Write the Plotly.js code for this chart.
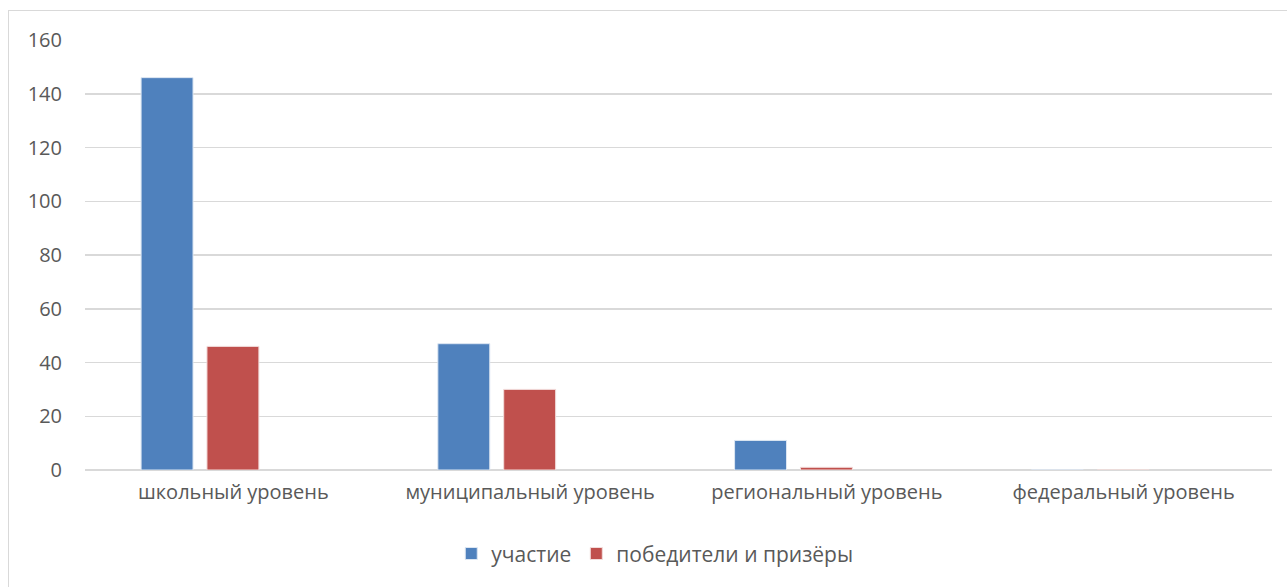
<!DOCTYPE html>
<html>
<head>
<meta charset="utf-8">
<script src="https://cdn.plot.ly/plotly-3.0.1.min.js"></script>
<style>
html,body{margin:0;padding:0;background:#fff;overflow:hidden;}
#wrap{position:relative;width:1287px;height:587px;}
#chart{position:absolute;left:0;top:0;width:1287px;height:587px;}
#frame{position:absolute;left:8px;top:10px;width:1300px;height:600px;border:1px solid #d9d9d9;pointer-events:none;}
</style>
</head>
<body>
<div id="wrap"><div id="chart"></div><div id="frame"></div></div>
<script>
const categories = ["школьный уровень", "муниципальный уровень", "региональный уровень", "федеральный уровень"];
const seriesNames = ["участие", "победители и призёры"];
const participation = [146, 47, 11, 0];
const winners = [46, 30, 1, 0];
const yTicks = [0, 20, 40, 60, 80, 100, 120, 140, 160];

const font = {family: "Open Sans, sans-serif", size: 20, color: "#595959"};
const legendFont = {family: "Open Sans, sans-serif", size: 21, color: "#595959"};

const traces = [
  {type: "bar", name: seriesNames[0], x: categories, y: participation,
   marker: {color: "#4f81bd", line: {color: "#dce6f2", width: 1}},
   width: 0.175, offset: -0.311, hoverinfo: "y"},
  {type: "bar", name: seriesNames[1], x: categories, y: winners,
   marker: {color: "#c0504d", line: {color: "#f2dcdb", width: 1}},
   width: 0.175, offset: -0.089, hoverinfo: "y"}
];

const layout = {
  width: 1287, height: 587,
  margin: {l: 85, r: 15, t: 40, b: 117},
  paper_bgcolor: "rgba(0,0,0,0)", plot_bgcolor: "#fff",
  font: font,
  barmode: "overlay",
  showlegend: true,
  legend: {orientation: "h", x: 0.48, xanchor: "center", y: -0.195, yanchor: "middle",
           font: legendFont, itemwidth: 30, traceorder: "normal"},
  xaxis: {type: "category", showgrid: false, zeroline: false, showline: false,
          ticks: "", tickfont: font, ticklabelstandoff: 8},
  yaxis: {range: [0, 160], tickvals: yTicks, ticktext: yTicks.map(String),
          showgrid: true, gridcolor: "#d9d9d9", gridwidth: 1.5,
          zeroline: true, zerolinecolor: "#d9d9d9", zerolinewidth: 1.5,
          showline: false, ticks: "", tickfont: font, ticklabelstandoff: 22}
};

Plotly.newPlot("chart", traces, layout, {displayModeBar: false, staticPlot: true});
</script>
</body>
</html>
